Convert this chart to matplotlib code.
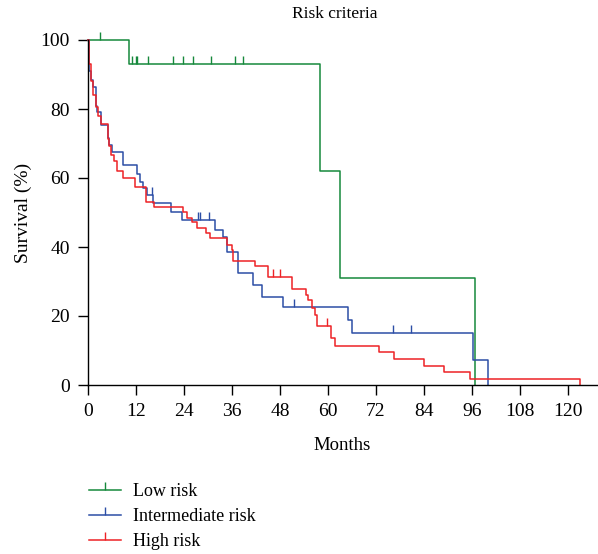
import numpy as np
import matplotlib
matplotlib.use('Agg')
import matplotlib.pyplot as plt
from matplotlib.lines import Line2D

plt.rcParams['font.family'] = ['Liberation Serif', 'DejaVu Serif']

# Kaplan-Meier step data (months, survival %)
low_t = [0, 10.2, 58, 63, 96.8]
low_s = [100, 92.9, 61.9, 30.95, 0]
low_cens = [3, 10.9, 11.9, 12.3, 14.9, 21.2, 23.7, 26.3, 30.75, 36.75, 38.8]

mid_t = [0, 0.3, 0.75, 1.2, 1.9, 2.3, 3.2, 5, 5.25, 6.1, 8.8, 12.2, 13, 13.7,
         14.7, 16.3, 20.7, 23.4, 31.75, 33.8, 34.7, 37.6, 41.2, 43.4, 48.8,
         65.1, 65.9, 96.3, 100.1]
mid_s = [100, 91, 88.5, 86.5, 81, 79, 75.3, 71.5, 69.5, 67.5, 63.8, 61.3, 58.9,
         57, 55.1, 52.7, 50.2, 47.8, 44.9, 43, 38.6, 32.4, 29, 25.6, 22.5,
         18.8, 15, 7.25, 0]
mid_cens = [16, 27.5, 28.1, 30.3, 51.6, 76.2, 80.7]

high_t = [0, 0.3, 0.8, 1.3, 2, 2.6, 3.2, 5, 5.25, 5.7, 6.5, 7.3, 8.75, 11.75,
          14.5, 16.5, 23.8, 24.7, 25.9, 27.2, 29.5, 30.5, 34.7, 35.9, 36.3,
          41.75, 45, 50.9, 54.5, 55.1, 55.9, 56.75, 57.2, 60.75, 61.75, 72.75,
          76.6, 84.1, 89.1, 95.5, 123]
high_s = [100, 93, 88, 84, 80.5, 78, 75.6, 71.2, 69.3, 66.8, 64.9, 62, 60.1,
          57.5, 53.1, 51.7, 50.2, 48.3, 47.3, 45.4, 44, 42.5, 40.6, 39.1, 36,
          34.6, 31.4, 27.7, 26.1, 24.6, 22.2, 20.3, 17.1, 13.5, 11.4, 9.5,
          7.4, 5.5, 3.7, 1.65, 0]
high_cens = [46.3, 48, 59.7]

groups = [
    ('Low risk', low_t, low_s, low_cens, '#16893c'),
    ('Intermediate risk', mid_t, mid_s, mid_cens, '#2c4ea6'),
    ('High risk', high_t, high_s, high_cens, '#ee2226'),
]

fig = plt.figure(figsize=(5.98, 5.54), dpi=100)
ax = fig.add_axes([88 / 598, 1 - 385 / 554, (597 - 88) / 598, (385 - 40) / 554])

handles = []
for name, t, s, cens, col in groups:
    ax.plot(t, s, drawstyle='steps-post', color=col, lw=1.1, clip_on=False)
    idx = np.searchsorted(t, cens, side='right') - 1
    cy = np.array(s)[idx]
    ax.plot(cens, cy, ls='none', marker=2, ms=6, mew=1.0, color=col, clip_on=False)
    handles.append(Line2D([], [], color=col, lw=1.1, marker=2, ms=6, mew=1.0))

ax.set_xlim(0, 127.25)
ax.set_ylim(0, 100)
ax.set_xticks(np.arange(0, 121, 12))
ax.set_yticks(np.arange(0, 101, 20))
ax.spines['top'].set_visible(False)
ax.spines['right'].set_visible(False)
for sp in ax.spines.values():
    sp.set_linewidth(1.0)
ax.tick_params(direction='out', length=7, width=1.0, labelsize=14, pad=6)

ax.set_xlabel('Months', fontsize=13.5, labelpad=12)
ax.set_ylabel('Survival (%)', fontsize=14, labelpad=6)
ax.set_title('Risk criteria', fontsize=12.5, pad=16, x=0.485)

fig.legend(handles, [g[0] for g in groups], loc='upper left',
           bbox_to_anchor=(80 / 598, 1 - 474 / 554), frameon=False,
           fontsize=13, handlelength=1.75, handletextpad=0.7,
           labelspacing=0.45, borderpad=0)

fig.savefig('out.png', dpi=100)
